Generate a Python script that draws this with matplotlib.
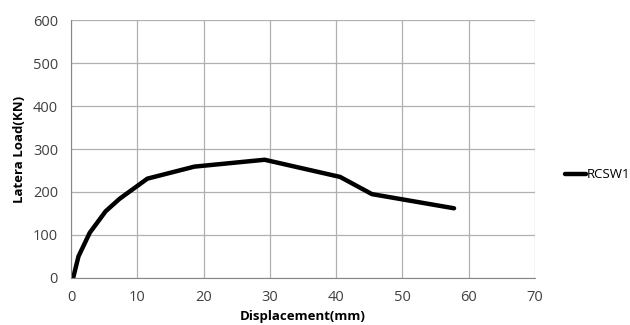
import matplotlib.pyplot as plt

displacement = [0.3, 1.1, 2.8, 5.2, 7.3, 11.5, 18.6, 29.2, 40.6, 45.4, 57.8]
lateral_load = [0, 50, 105, 155, 184, 231, 259, 275, 235, 195, 162]
series_name = 'RCSW1'

plt.rcParams['font.family'] = ['Open Sans', 'DejaVu Sans']

fig = plt.figure(figsize=(6.3, 3.25), dpi=100)
ax = fig.add_axes([0.113, 0.145, 0.736, 0.793])

ax.plot(displacement, lateral_load, color='black', linewidth=3.2,
        solid_capstyle='round', solid_joinstyle='round', label=series_name)

ax.set_xlim(0, 70)
ax.set_ylim(0, 600)
ax.set_xticks(range(0, 71, 10))
ax.set_yticks(range(0, 601, 100))
ax.grid(True, color='#b0b0b0', linewidth=0.9)
ax.set_axisbelow(True)
for side in ['top', 'right']:
    ax.spines[side].set_visible(False)
for side in ['left', 'bottom']:
    ax.spines[side].set_color('#868686')
ax.tick_params(length=0, labelsize=10.5, colors='#404040')
ax.tick_params(axis='y', pad=9.5)
ax.tick_params(axis='x', pad=9)

ax.set_xlabel('Displacement(mm)', fontsize=9.5, fontweight='bold', labelpad=3)
ax.set_ylabel('Latera Load(KN)', fontsize=9.5, fontweight='bold', labelpad=5)

fig.legend(loc='center left', bbox_to_anchor=(0.888, 0.462), frameon=False,
           fontsize=9.5, handlelength=1.6, handletextpad=0.1, borderaxespad=0)

fig.savefig('out.png', dpi=100)
